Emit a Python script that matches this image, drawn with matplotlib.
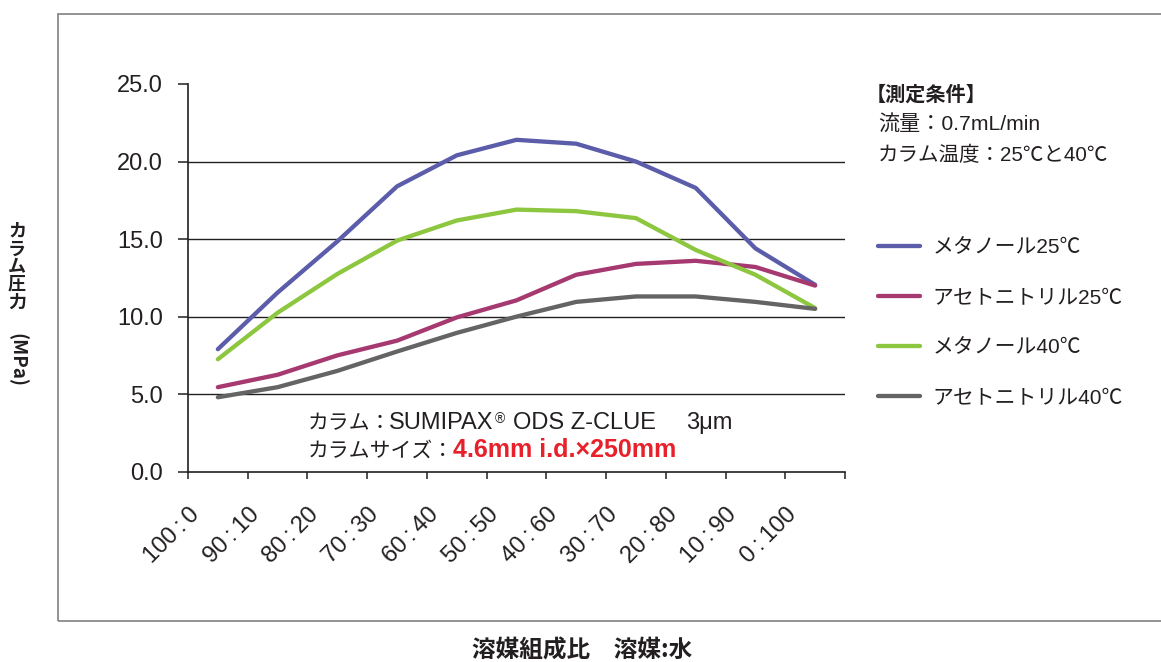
import matplotlib
matplotlib.use('Agg')
import matplotlib.pyplot as plt
from matplotlib.patches import Rectangle
from matplotlib.transforms import ScaledTranslation
import numpy as np

FAM = ['Liberation Sans', 'Noto Sans CJK JP', 'DejaVu Sans']
plt.rcParams['font.family'] = FAM
INK = '#231f20'
TS = chr(0x2009)  # thin space

# solvent ratio categories (organic : water)
ratios = ['100:0', '90:10', '80:20', '70:30', '60:40', '50:50',
          '40:60', '30:70', '20:80', '10:90', '0:100']

# column pressure (MPa)
meoh_25 = [7.9, 11.55, 14.85, 18.4, 20.4, 21.4, 21.15, 20.0, 18.3, 14.4, 12.05]
acn_25 = [5.45, 6.25, 7.5, 8.45, 9.95, 11.05, 12.7, 13.4, 13.6, 13.2, 12.0]
meoh_40 = [7.25, 10.25, 12.75, 14.9, 16.2, 16.9, 16.8, 16.35, 14.3, 12.7, 10.55]
acn_40 = [4.8, 5.45, 6.5, 7.75, 8.95, 10.0, 10.95, 11.3, 11.3, 10.95, 10.5]

series_labels = ['メタノール25℃', 'アセトニトリル25℃', 'メタノール40℃', 'アセトニトリル40℃']
series_colors = ['#5b5caa', '#a6396f', '#8dc63f', '#646464']
y_ticks = [0, 5, 10, 15, 20, 25]

W, H = 1161, 662
fig = plt.figure(figsize=(W / 100, H / 100), dpi=100)
ax = fig.add_axes([188 / W, 1 - 471.7 / H, (845 - 188) / W, (471.7 - 84) / H])


def fx(px):
    return px / W


def fy(py):
    return 1 - py / H


# outer frame (right side runs off the image)
fig.patches.append(Rectangle((fx(58), fy(621)), 1.2, (621 - 14) / H,
                             transform=fig.transFigure, fill=False,
                             edgecolor='#8a8a8a', linewidth=1.3))

x = np.arange(len(ratios)) + 0.5
for vals, lab, col in zip([meoh_25, acn_25, meoh_40, acn_40], series_labels, series_colors):
    ax.plot(x, vals, color=col, linewidth=3.1, label=lab, solid_capstyle='round',
            solid_joinstyle='round')

ax.set_xlim(0, len(ratios))
ax.set_ylim(0, 25)

# horizontal gridlines (none at the top value)
for yv in y_ticks[1:-1]:
    ax.axhline(yv, color=INK, linewidth=1.0, zorder=0)

for s in ['top', 'right']:
    ax.spines[s].set_visible(False)
for s in ['left', 'bottom']:
    ax.spines[s].set_color(INK)
    ax.spines[s].set_linewidth(1.2)

ax.set_yticks(y_ticks)
ax.set_yticklabels([f'{v:.1f}' for v in y_ticks])
ax.tick_params(axis='y', direction='out', length=7, width=1.1, pad=11,
               labelsize=17, labelcolor=INK, color=INK)

# tick marks on category boundaries, labels on category centres
ax.set_xticks(np.arange(len(ratios) + 1))
ax.set_xticklabels([])
ax.tick_params(axis='x', which='major', direction='out', length=5, width=1.1, color=INK)
ax.set_xticks(x, minor=True)
ax.set_xticklabels([r.replace(':', TS + ':' + TS) for r in ratios], minor=True)
ax.tick_params(axis='x', which='minor', length=0, pad=23, labelsize=17, labelcolor=INK)
shift = ScaledTranslation(-14 / 100, 0, fig.dpi_scale_trans)
for t in ax.get_xticklabels(minor=True):
    t.set_rotation(45)
    t.set_ha('right')
    t.set_va('top')
    t.set_transform(t.get_transform() + shift)

# y axis title, written vertically
for i, ch in enumerate('カラム圧力'):
    fig.text(fx(17), fy(231 + i * 17.8), ch, fontsize=13, fontweight='bold',
             ha='center', va='center', family='Noto Sans CJK JP', color=INK)
fig.text(fx(17), fy(360), '(MPa)', fontsize=13.5, fontweight='bold', rotation=-90,
         ha='center', va='center', family='Noto Sans CJK JP', color=INK)
# x axis title
fig.text(fx(582), fy(651), '溶媒組成比　溶媒:水', fontsize=17, fontweight='bold',
         ha='center', va='center', family='Noto Sans CJK JP', color=INK)

# conditions
fig.text(fx(866), fy(94), '【測定条件】', fontsize=14.5, fontweight='bold',
         ha='left', va='center', family='Noto Sans CJK JP', color=INK)
fig.text(fx(878), fy(125), '流量：0.7mL/min', fontsize=15.2,
         ha='left', va='center', color=INK)
fig.text(fx(878), fy(155), 'カラム温度：25℃と40℃', fontsize=14.8,
         ha='left', va='center', color=INK)

# legend
leg = fig.legend(loc='upper left', bbox_to_anchor=(fx(878), fy(238)),
                 frameon=False, handlelength=2.0, handletextpad=0.6,
                 labelspacing=1.5, borderpad=0, borderaxespad=0,
                 prop={'family': FAM, 'size': 15})
for t in leg.get_texts():
    t.set_color(INK)

# column info
base1 = fy(429)
fig.text(fx(308), base1, 'カラム：', fontsize=15, ha='left', va='baseline', color=INK)
t_sumi = fig.text(fx(389), base1, 'SUMIPAX', fontsize=17, ha='left', va='baseline', color=INK)
ax.annotate('®', xy=(1, 1), xycoords=t_sumi, xytext=(1, 0), textcoords='offset points',
            fontsize=10, ha='left', va='top', color=INK)
t_ods = ax.annotate('ODS Z-CLUE', xy=(1, 0), xycoords=t_sumi, xytext=(14, 0),
                    textcoords='offset points', fontsize=17, ha='left', va='bottom',
                    color=INK)
ax.annotate('3μm', xy=(1, 0), xycoords=t_ods, xytext=(22, 0),
            textcoords='offset points', fontsize=17, ha='left', va='bottom', color=INK)
base2 = fy(457)
fig.text(fx(308), base2, 'カラムサイズ：', fontsize=15, ha='left', va='baseline', color=INK)
fig.text(fx(453), base2, '4.6mm i.d.×250mm', fontsize=18, fontweight='bold',
         ha='left', va='baseline', color='#e8202a')

fig.savefig('out.png', dpi=100)
